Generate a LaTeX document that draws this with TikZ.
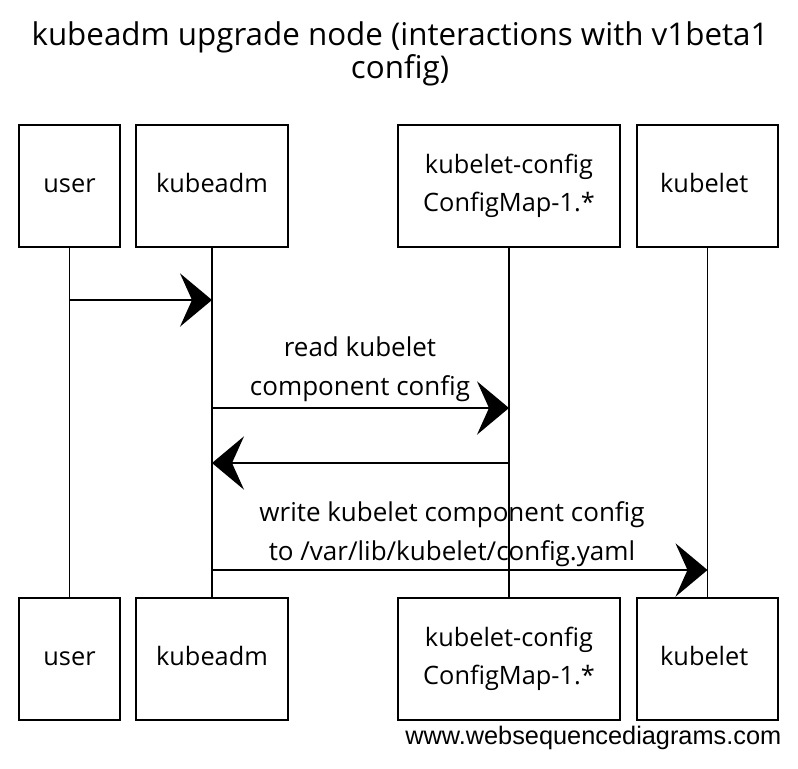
\documentclass[tikz,border=0pt]{standalone}
\usepackage{fontspec}
\setmainfont{Open Sans}
\newfontfamily\wsdfont{Liberation Sans}
\usetikzlibrary{arrows.meta}

\tikzset{
  actor/.style={draw, line width=1.3pt, fill=white, inner sep=0pt,
    minimum height=91.5pt, align=center,
    font=\fontsize{19}{28}\selectfont},
  lifeline/.style={line width=0.9pt},
  msg/.style={line width=1.3pt, -{Stealth[length=24pt, width=40pt, inset=9pt]}},
  msglabel/.style={align=center, font=\fontsize{19.5}{29}\selectfont}
}

\begin{document}
\begin{tikzpicture}[x=0.75pt, y=-0.75pt]
  \useasboundingbox (0,0) rectangle (798,768);

  % title
  \node[align=center, font=\fontsize{23.5}{25}\selectfont] (title) at (400,54)
    {kubeadm upgrade node (interactions with v1beta1\\config)};

  % participants
  \foreach \n/\x/\w/\t in {
    user/69.5/101/user,
    kubeadm/212/152/kubeadm,
    cfg/509/222/{kubelet-config\\ConfigMap-1.*},
    kubelet/707.5/141/kubelet
  } {
    \node[actor, minimum width=\w*0.75pt] (\n-top) at (\x,186) {\t\vphantom{kg}};
    \node[actor, minimum width=\w*0.75pt] (\n-bot) at (\x,659) {\t\vphantom{kg}};
    \draw[lifeline] (\n-top.south) -- (\n-bot.north);
  }

  % messages
  \foreach \a/\b/\y in {
    user/kubeadm/300,
    kubeadm/cfg/408,
    cfg/kubeadm/463,
    kubeadm/kubelet/570%
  } { \draw[msg] (\a-top.south |- 0,\y) -- (\b-top.south |- 0,\y); }

  % labels
  \node[msglabel, anchor=south] (read) at (360,406)
    {read kubelet\\component config};
  \node[msglabel, anchor=south] (write) at (452,571)
    {write kubelet component config\\to /var/lib/kubelet/config.yaml};

  \node[anchor=east, font=\wsdfont\fontsize{19}{21}\selectfont] (wsd) at (786,738)
    {www.websequencediagrams.com};
\end{tikzpicture}
\end{document}
